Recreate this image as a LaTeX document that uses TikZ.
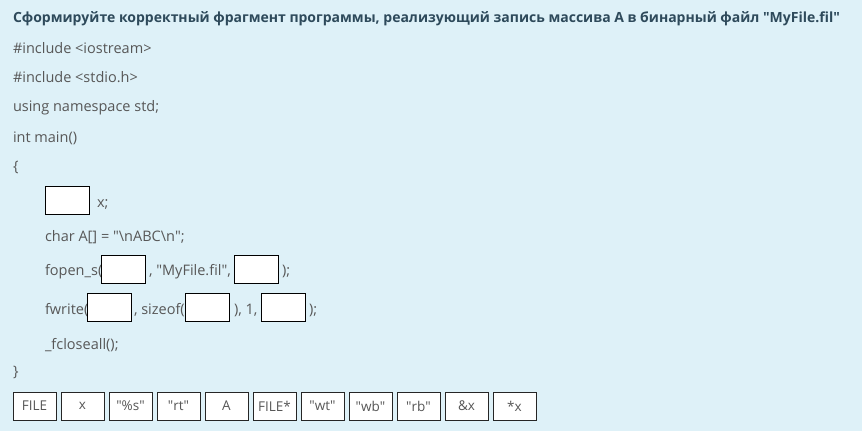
\documentclass[tikz,border=0pt]{standalone}
\usepackage{fontspec}
\setmainfont{Open Sans}
\usetikzlibrary{positioning}
\definecolor{bgblue}{HTML}{DEF1F8}
\definecolor{codegray}{HTML}{575757}
\definecolor{headslate}{HTML}{2E4A5B}
\newcommand{\dq}{\textquotedbl}

\begin{document}
\begin{tikzpicture}[x=1pt, y=-1pt,
        every node/.style={inner sep=0pt, outer sep=0pt},
        codeline/.style={anchor=base west, text=codegray, font=\fontsize{14.5}{16}\selectfont},
        gapbox/.style={draw=black, fill=white, line width=0.8pt, minimum width=44pt, minimum height=28pt, anchor=north west},
        chip/.style={draw=black!85, fill=white, line width=0.8pt, minimum width=43pt, minimum height=28pt,
            text=codegray, font=\fontsize{13.5}{16}\selectfont}]

        \fill[bgblue] (0,0) rectangle (862,431);
        \useasboundingbox (0,0) rectangle (862,431);

        \node[anchor=base west, text=headslate, font=\bfseries\fontsize{14}{16}\selectfont] (title) at (13,23)
            {Сформируйте корректный фрагмент программы, реализующий запись массива А в бинарный файл \dq MyFile.fil\dq};

        % header lines
        \node[codeline] (inc1) at (13,53) {\#include <iostream>};
        \node[codeline] (inc2) at (13,82) {\#include <stdio.h>};
        \node[codeline] (nspace) at (13,111) {using namespace std;};
        \node[codeline] (mainfn) at (13,142) {int main()};
        \node[codeline] (open) at (13,171) {\{};

        % body of main
        \node[gapbox] (gap1) at (45,186) {};
        \node[codeline] (decl) at (97,207) {x;};
        \node[codeline] (arr) at (45,241) {char A[] = \dq\textbackslash nABC\textbackslash n\dq;};

        \node[codeline] (fopen) at (45,275) {fopen\_s(};
        \node[gapbox] (gap2) at (101,255) {};
        \node[codeline] (fname) at (149,275) {, \dq MyFile.fil\dq,};
        \node[gapbox] (gap3) at (234,255) {};
        \node[codeline] (fopenend) at (282,275) {);};

        \node[codeline] (fwrite) at (45,314) {fwrite(};
        \node[gapbox] (gap4) at (87,293) {};
        \node[codeline] (sizeof) at (134,314) {, sizeof(};
        \node[gapbox] (gap5) at (185,293) {};
        \node[codeline] (count) at (234,314) {), 1,};
        \node[gapbox] (gap6) at (261,293) {};
        \node[codeline] (fwriteend) at (309,314) {);};

        \node[codeline] (fclose) at (45,349) {\_fcloseall();};
        \node[codeline] (close) at (13,376) {\}};

        % answer options
        \node[chip, anchor=north west] (opt1) at (13,392) {FILE};
        \foreach \lbl [count=\i from 2, remember=\i as \j (initially 1)] in {x, \dq\%s\dq, \dq rt\dq, A, FILE*, \dq wt\dq, \dq wb\dq, \dq rb\dq, \&x, *x}
            \node[chip, right=5pt of opt\j] (opt\i) {\lbl};
\end{tikzpicture}
\end{document}
